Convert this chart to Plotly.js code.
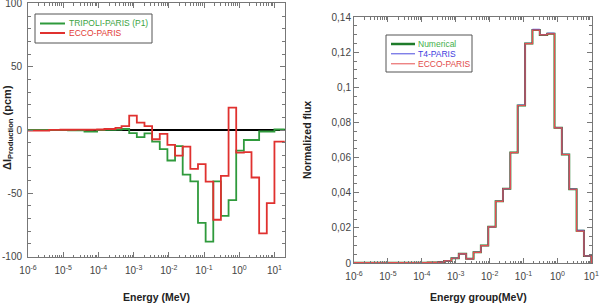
<!DOCTYPE html>
<html>
<head>
<meta charset="utf-8">
<script src="https://cdn.plot.ly/plotly-3.0.1.min.js"></script>
<style>
  html, body { margin: 0; padding: 0; background: #fff; }
  #chart { width: 607px; height: 305px; }
</style>
</head>
<body>
<div id="chart"></div>
<script>
// ECCO 33-group structure, group edges in MeV (ascending, groups 31 .. 1)
const groupEdges = [5.4e-7, 4.0e-6, 8.3153e-6, 1.3710e-5, 2.2603e-5, 4.0169e-5, 6.7904e-5,
  9.1661e-5, 1.4863e-4, 3.0432e-4, 4.5400e-4, 7.4852e-4, 1.2341e-3, 2.0347e-3, 3.3546e-3,
  5.5308e-3, 9.1188e-3, 1.5034e-2, 2.4788e-2, 4.0868e-2, 6.7379e-2, 1.1109e-1, 1.8316e-1,
  3.0197e-1, 4.9787e-1, 8.2085e-1, 1.3534, 2.2313, 3.6788, 6.0653, 10.0, 19.64];

// Production rate difference per group (pcm), ascending energy
const tripoliParisDelta = [0, 0, 0, -0.2, -0.2, -1.3, -1.3, 0, 0.2, 0.4, 0.8, -2.4, -5.6, -2.6,
  -9.2, -15.1, -24.1, -12.8, -35.2, -40.5, -73.3, -88.2, -40.5, -67.8, -55.4, -16.3, -7.9,
  -7.9, -1.2, -1.2, 0.4];
const eccoParisDelta = [-0.5, 0.1, 0.2, 0.2, 0.3, 0.2, 0.3, 0.4, 0.8, 1.6, 3.0, 11.3, 5.8, 3.1,
  -7.3, -3.1, -11.8, -20.2, -13.1, -30.7, -27.0, -40.7, -70.9, -36.2, 17.7, -17.8, -17.5,
  -37.5, -81.7, -57.7, -9.2];

// Normalized group flux, ascending energy
const fluxNumerical = [0.0002, 0.0002, 0.0002, 0.0002, 0.0002, 0.0002, 0.0002, 0.0002, 0.0003,
  0.0005, 0.0012, 0.0027, 0.0052, 0.0024, 0.0061, 0.0099, 0.0206, 0.0351, 0.0423, 0.0629,
  0.0897, 0.1250, 0.1327, 0.1299, 0.1306, 0.0770, 0.0618, 0.0420, 0.0183, 0.0040, 0.0000];
const fluxT4Paris = [0.0002, 0.0002, 0.0002, 0.0002, 0.0002, 0.0002, 0.0002, 0.0002, 0.0003,
  0.0005, 0.0012, 0.0027, 0.0052, 0.0024, 0.0061, 0.0099, 0.0206, 0.0351, 0.0423, 0.0629,
  0.0899, 0.1251, 0.1331, 0.1300, 0.1309, 0.0771, 0.0619, 0.0421, 0.0186, 0.0040, 0.0000];
const fluxEccoParis = [0.0002, 0.0002, 0.0002, 0.0002, 0.0002, 0.0002, 0.0002, 0.0002, 0.0003,
  0.0005, 0.0012, 0.0027, 0.0052, 0.0024, 0.0061, 0.0099, 0.0206, 0.0351, 0.0423, 0.0629,
  0.0897, 0.1249, 0.1326, 0.1299, 0.1305, 0.0770, 0.0618, 0.0420, 0.0182, 0.0040, 0.0000];

// Tick labels
const energyTickVals = [1e-6, 1e-5, 1e-4, 1e-3, 1e-2, 1e-1, 1, 10];
const energyTickText = ['10<sup>-6</sup>', '10<sup>-5</sup>', '10<sup>-4</sup>', '10<sup>-3</sup>',
  '10<sup>-2</sup>', '10<sup>-1</sup>', '10<sup>0</sup>', '10<sup>1</sup>'];
const deltaTickVals = [-100, -50, 0, 50, 100];
const deltaTickText = ['-100', '-50', '0', '50', '100'];
const fluxTickVals = [0, 0.02, 0.04, 0.06, 0.08, 0.1, 0.12, 0.14];
const fluxTickText = ['0', '0,02', '0,04', '0,06', '0,08', '0,1', '0,12', '0,14'];

// Legend entries
const leftLegend = [
  { name: 'TRIPOLI-PARIS (P1)', line: '#2f9a3c', text: '#3aa442', width: 2 },
  { name: 'ECCO-PARIS', line: '#e0312f', text: '#e23a34', width: 2 }
];
const rightLegend = [
  { name: 'Numerical', line: '#1e7b2a', text: '#44b04a', width: 2.5 },
  { name: 'T4-PARIS', line: '#4a4adf', text: '#4040e0', width: 1 },
  { name: 'ECCO-PARIS', line: '#e65050', text: '#e24a4a', width: 1 }
];

// Group-wise histogram: each value is held from the group's lower edge to its upper edge
function stepX(edges) { return edges.slice(); }
function stepY(values) { return values.concat([values[values.length - 1]]); }

const FONT = 'Liberation Sans, Arial, sans-serif';
const tickFont = { family: FONT, size: 10, color: '#444' };
const titleFont = { family: FONT, size: 10.5, color: '#222' };
const frame = '#777';

const traces = [
  { x: stepX(groupEdges), y: stepY(tripoliParisDelta), type: 'scatter', mode: 'lines',
    line: { shape: 'hv', color: leftLegend[0].line, width: 1.8 }, xaxis: 'x', yaxis: 'y',
    name: leftLegend[0].name, showlegend: false },
  { x: stepX(groupEdges), y: stepY(eccoParisDelta), type: 'scatter', mode: 'lines',
    line: { shape: 'hv', color: leftLegend[1].line, width: 1.8 }, xaxis: 'x', yaxis: 'y',
    name: leftLegend[1].name, showlegend: false },
  { x: stepX(groupEdges), y: stepY(fluxNumerical), type: 'scatter', mode: 'lines',
    line: { shape: 'hv', color: rightLegend[0].line, width: 2 }, xaxis: 'x2', yaxis: 'y2',
    name: rightLegend[0].name, showlegend: false },
  { x: stepX(groupEdges), y: stepY(fluxT4Paris), type: 'scatter', mode: 'lines',
    line: { shape: 'hv', color: rightLegend[1].line, width: 1 }, xaxis: 'x2', yaxis: 'y2',
    name: rightLegend[1].name, showlegend: false },
  { x: stepX(groupEdges), y: stepY(fluxEccoParis), type: 'scatter', mode: 'lines',
    line: { shape: 'hv', color: rightLegend[2].line, width: 1.2 }, xaxis: 'x2', yaxis: 'y2',
    name: rightLegend[2].name, showlegend: false }
];

// Figure geometry (pixels)
const W = 607, H = 305;
const M = { l: 28, r: 15, t: 3, b: 42 };
const PW = W - M.l - M.r, PH = H - M.t - M.b;
const leftBox = { x0: 28, x1: 285, y0: 3, y1: 257 };
const rightBox = { x0: 354, x1: 592, y0: 17, y1: 263 };
const px2paperX = px => (px - M.l) / PW;
const py2paperY = py => (H - M.b - py) / PH;

function logAxis(domain, range) {
  return {
    type: 'log', domain: domain, range: range,
    tickvals: energyTickVals, ticktext: energyTickText,
    ticks: 'inside', ticklen: 5, tickcolor: frame, tickwidth: 1, ticklabelstandoff: 4,
    minor: { ticks: 'inside', ticklen: 2.5, tickcolor: frame, dtick: 'D1', showgrid: false },
    showline: true, linecolor: frame, linewidth: 1, mirror: 'ticks',
    showgrid: false, zeroline: false, tickfont: tickFont, fixedrange: true,
    ticklabeloverflow: 'allow'
  };
}

// Hand-drawn legend boxes inside each panel
function legendItems(entries, box, xref, yref, geom) {
  const fx = px => (px - geom.x0) / (geom.x1 - geom.x0);
  const fy = py => (geom.y1 - py) / (geom.y1 - geom.y0);
  const shapes = [{
    type: 'rect', xref: xref, yref: yref,
    x0: fx(box.x0), x1: fx(box.x1), y0: fy(box.y0), y1: fy(box.y1),
    line: { color: '#555', width: 1 }, fillcolor: '#fff', layer: 'above'
  }];
  const annotations = [];
  entries.forEach((e, i) => {
    const yy = box.rows[i];
    shapes.push({
      type: 'line', xref: xref, yref: yref,
      x0: fx(box.lx0), x1: fx(box.lx1), y0: fy(yy), y1: fy(yy),
      line: { color: e.line, width: e.width }, layer: 'above'
    });
    annotations.push({
      xref: xref, yref: yref, x: fx(box.tx), y: fy(yy), xanchor: 'left', yanchor: 'middle',
      text: e.name, showarrow: false, font: { family: FONT, size: 8.5, color: e.text }
    });
  });
  return { shapes, annotations };
}

const legL = legendItems(leftLegend,
  { x0: 35, x1: 152, y0: 14, y1: 43, lx0: 40, lx1: 65, tx: 67, rows: [23.5, 33] },
  'x domain', 'y domain', leftBox);
const legR = legendItems(rightLegend,
  { x0: 386, x1: 472, y0: 35, y1: 72, lx0: 391, lx1: 415, tx: 416, rows: [44, 53.8, 63.8] },
  'x2 domain', 'y2 domain', rightBox);

const layout = {
  width: W, height: H,
  margin: M,
  paper_bgcolor: '#fff', plot_bgcolor: '#fff',
  showlegend: false,
  font: { family: FONT },
  xaxis: Object.assign(logAxis([px2paperX(leftBox.x0), px2paperX(leftBox.x1)], [-6, 1.3]),
    { anchor: 'y' }),
  yaxis: {
    domain: [py2paperY(leftBox.y1), py2paperY(leftBox.y0)], range: [-100.3, 100.3], anchor: 'x',
    tickvals: deltaTickVals, ticktext: deltaTickText,
    ticks: 'inside', ticklen: 5, tickcolor: frame, ticklabelstandoff: 3,
    ticklabeloverflow: 'allow',
    minor: { ticks: 'inside', ticklen: 3, tickcolor: frame, dtick: 10, showgrid: false },
    showline: true, linecolor: frame, linewidth: 1, mirror: 'ticks',
    showgrid: false, zeroline: true, zerolinecolor: '#000', zerolinewidth: 2,
    tickfont: tickFont, fixedrange: true
  },
  xaxis2: Object.assign(logAxis([px2paperX(rightBox.x0), px2paperX(rightBox.x1)], [-6, 1.02]),
    { anchor: 'y2' }),
  yaxis2: {
    domain: [py2paperY(rightBox.y1), py2paperY(rightBox.y0)], range: [0, 0.1401], anchor: 'x2',
    tickvals: fluxTickVals, ticktext: fluxTickText,
    ticks: 'inside', ticklen: 5, tickcolor: frame, ticklabeloverflow: 'allow',
    minor: { ticks: 'inside', ticklen: 3, tickcolor: frame, dtick: 0.005, showgrid: false },
    showline: true, linecolor: frame, linewidth: 1, mirror: 'ticks',
    showgrid: false, zeroline: false, tickfont: tickFont, fixedrange: true
  },
  shapes: legL.shapes.concat(legR.shapes),
  annotations: legL.annotations.concat(legR.annotations, [
    { xref: 'paper', yref: 'paper', x: px2paperX(156), y: py2paperY(297),
      xanchor: 'center', yanchor: 'middle', showarrow: false,
      text: '<b>Energy (MeV)</b>', font: titleFont },
    { xref: 'paper', yref: 'paper', x: px2paperX(478), y: py2paperY(297),
      xanchor: 'center', yanchor: 'middle', showarrow: false,
      text: '<b>Energy group(MeV)</b>', font: titleFont },
    { xref: 'paper', yref: 'paper', x: px2paperX(8), y: py2paperY(128),
      xanchor: 'center', yanchor: 'middle', showarrow: false, textangle: -90,
      text: '<b>ΔI<sub>Production</sub> (pcm)</b>', font: { family: FONT, size: 11, color: '#222' } },
    { xref: 'paper', yref: 'paper', x: px2paperX(307), y: py2paperY(140),
      xanchor: 'center', yanchor: 'middle', showarrow: false, textangle: -90,
      text: '<b>Normalized flux</b>', font: titleFont }
  ])
};

Plotly.newPlot('chart', traces, layout, { displayModeBar: false, staticPlot: true });
</script>
</body>
</html>
